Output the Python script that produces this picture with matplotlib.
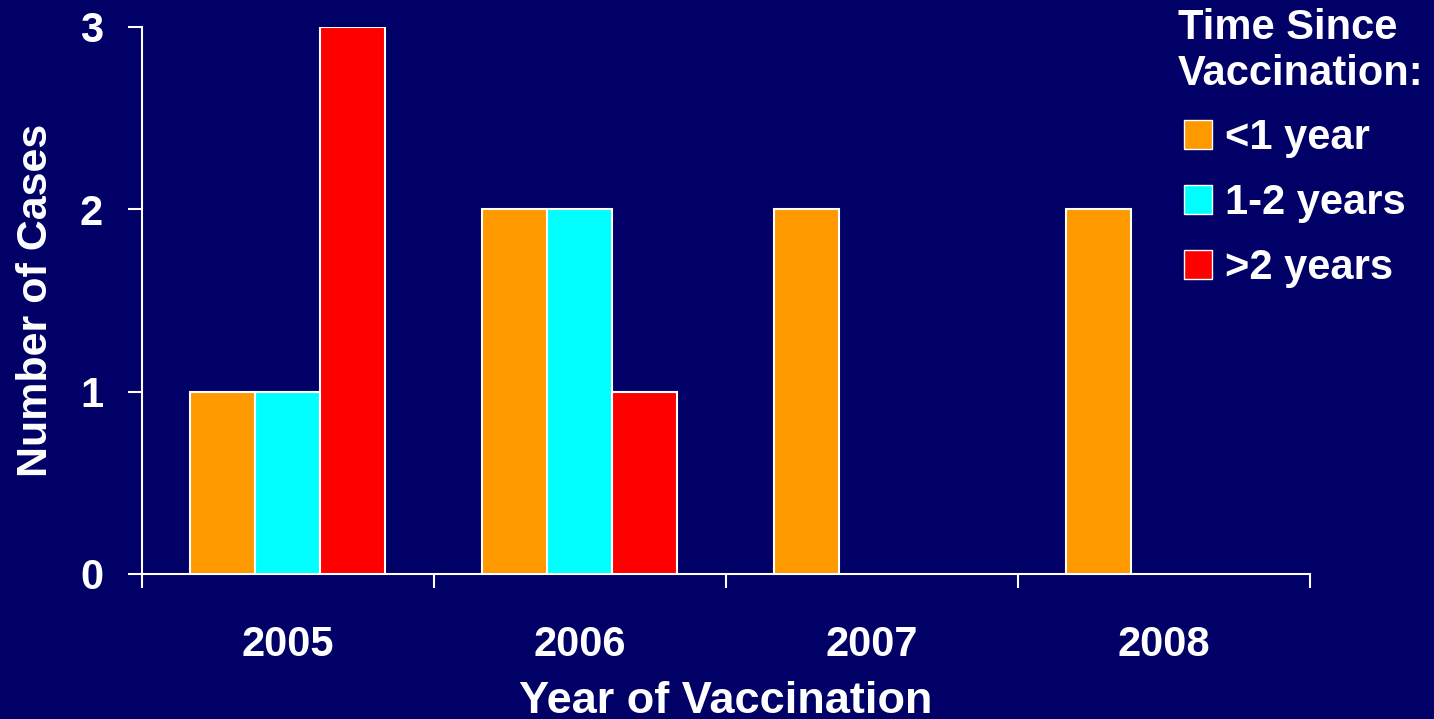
import matplotlib
matplotlib.use('Agg')
import matplotlib.pyplot as plt
from matplotlib.patches import Patch
import numpy as np

years = ['2005', '2006', '2007', '2008']
lt_1yr = [1, 2, 2, 2]
yr_1_2 = [1, 2, 0, 0]
gt_2yr = [3, 1, 0, 0]
series_names = ['<1 year', '1-2 years', '>2 years']
series_colors = ['#FF9900', '#00FFFF', '#FF0000']

bg = '#000066'
plt.rcParams['font.family'] = ['Liberation Sans', 'DejaVu Sans']
plt.rcParams['font.weight'] = 'bold'
plt.rcParams['axes.labelweight'] = 'bold'

fig = plt.figure(figsize=(14.34, 7.19), dpi=100, facecolor=bg)
ax = fig.add_axes([0.099, 0.2017, 0.8145, 0.7608], facecolor=bg)

x = np.arange(len(years))
w = 0.2226
for i, (vals, col) in enumerate(zip([lt_1yr, yr_1_2, gt_2yr], series_colors)):
    keep = [j for j, v in enumerate(vals) if v > 0]
    ax.bar(x[keep] + (i - 1) * w, [vals[j] for j in keep], width=w,
           color=col, edgecolor='white', linewidth=1.5, zorder=3)

ax.set_xlim(-0.5, len(years) - 0.5)
ax.set_ylim(0, 3)
ax.set_yticks([0, 1, 2, 3])

# category boundaries get the tick marks, labels sit on minor ticks
ax.set_xticks(np.arange(-0.5, len(years)), labels=[])
ax.set_xticks(x, labels=years, minor=True)
ax.tick_params(axis='x', which='major', length=10, width=1.5, color='white', direction='out')
ax.tick_params(axis='x', which='minor', length=0, pad=37, labelsize=30, labelcolor='white')
ax.tick_params(axis='y', length=10, width=1.5, color='white', direction='out',
               pad=18, labelsize=30, labelcolor='white')

for s in ['top', 'right']:
    ax.spines[s].set_visible(False)
for s in ['left', 'bottom']:
    ax.spines[s].set_color('white')
    ax.spines[s].set_linewidth(1.5)

ax.set_ylabel('Number of Cases', fontsize=31, color='white', labelpad=17)
ax.set_xlabel('Year of Vaccination', fontsize=32.5, color='white', labelpad=11)

# legend heading as its own text so the swatches can sit slightly indented
fig.text(1178 / 1434, 1 - 8 / 719, 'Time Since\nVaccination:', fontsize=30, color='white',
         fontweight='bold', ha='left', va='top', linespacing=1.2)
handles = [Patch(facecolor=c, edgecolor='white', linewidth=1) for c in series_colors]
leg = ax.legend(handles, series_names, loc='upper left', bbox_to_anchor=(1184 / 1434, 1 - 118 / 719),
                bbox_transform=fig.transFigure, frameon=False, fontsize=30,
                handlelength=0.67, handleheight=0.67, handletextpad=0.31,
                labelspacing=0.6, borderpad=0, borderaxespad=0)
for t in leg.get_texts():
    t.set_color('white')

fig.savefig('out.png', dpi=100, facecolor=bg)
